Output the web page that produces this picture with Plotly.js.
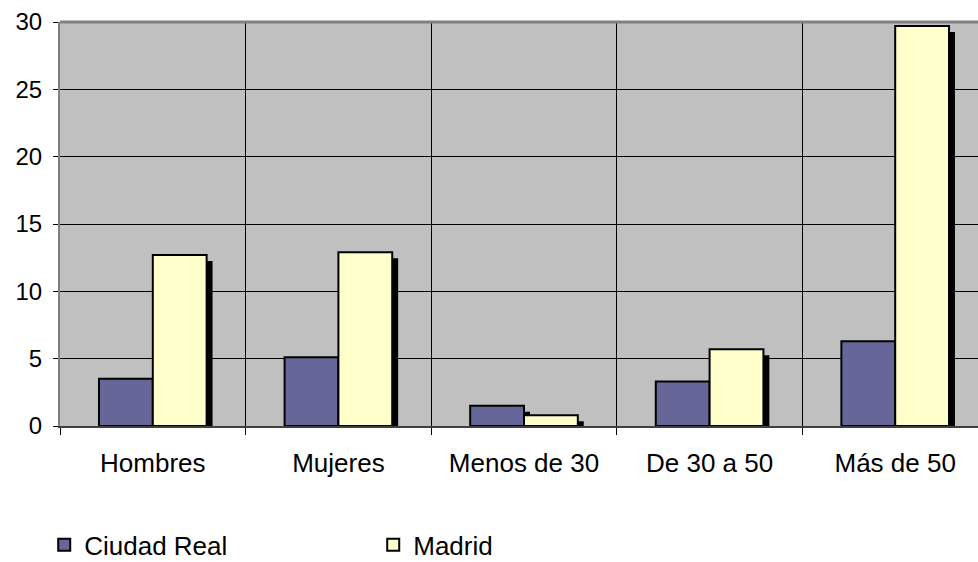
<!DOCTYPE html>
<html>
<head>
<meta charset="utf-8">
<script src="https://cdn.plot.ly/plotly-3.0.1.min.js"></script>
<style>
html, body { margin: 0; padding: 0; overflow: hidden; background: #fff; }
#chart { width: 990px; height: 562px; }
</style>
</head>
<body>
<div id="chart"></div>
<script>
const categories = ["Hombres", "Mujeres", "Menos de 30", "De 30 a 50", "Más de 50"];
const ciudadReal = [3.5, 5.1, 1.5, 3.3, 6.3];
const madrid = [12.7, 12.9, 0.8, 5.7, 29.7];
const seriesNames = ["Ciudad Real", "Madrid"];
const yTicks = [0, 5, 10, 15, 20, 25, 30];

const BAR_W = 0.29;
const SH_DX = 0.032;   // shadow shift (category units)
const SH_DY = 0.45;    // shadow shift (value units)

function shadow(vals, off) {
  return {
    type: 'bar', x: categories, y: vals,
    base: vals.map(() => -SH_DY),
    width: BAR_W, offset: off + SH_DX,
    marker: { color: '#000000', line: { width: 0 } },
    showlegend: false, hoverinfo: 'skip'
  };
}

const data = [
  shadow(ciudadReal, -BAR_W),
  shadow(madrid, 0),
  {
    type: 'bar', name: seriesNames[0], x: categories, y: ciudadReal,
    width: BAR_W, offset: -BAR_W,
    marker: { color: '#666699', line: { color: '#000000', width: 2 } }
  },
  {
    type: 'bar', name: seriesNames[1], x: categories, y: madrid,
    width: BAR_W, offset: 0,
    marker: { color: '#FFFFCC', line: { color: '#000000', width: 2 } }
  }
];

const layout = {
  width: 990, height: 562,
  margin: { l: 60, r: 2, t: 22, b: 136, autoexpand: false },
  paper_bgcolor: '#ffffff',
  plot_bgcolor: '#C0C0C0',
  barmode: 'overlay',
  font: { family: 'Liberation Sans, Arial, sans-serif', color: '#000000', size: 24 },
  xaxis: {
    type: 'category',
    range: [-0.5, 4.5],
    tickson: 'boundaries',
    ticks: 'outside', ticklen: 7, tickcolor: '#000000', tickwidth: 1,
    showgrid: true, gridcolor: '#000000', gridwidth: 1,
    showline: true, linecolor: '#404040', linewidth: 2,
    tickfont: { size: 26 },
    tickangle: 0,
    ticklabelstandoff: 13,
    automargin: false,
    fixedrange: true
  },
  yaxis: {
    range: [0, 30],
    tickvals: yTicks,
    ticks: 'outside', ticklen: 5, tickcolor: '#000000', tickwidth: 1,
    showgrid: true, gridcolor: '#000000', gridwidth: 1,
    zeroline: false,
    showline: true, linecolor: '#808080', linewidth: 2,
    tickfont: { size: 24 },
    ticklabelstandoff: 6,
    automargin: false,
    fixedrange: true
  },
  shapes: [{
    type: 'line', xref: 'paper', yref: 'paper', x0: 0, x1: 1, y0: 1, y1: 1,
    line: { color: '#808080', width: 3 }
  }],
  showlegend: true,
  legend: {
    orientation: 'h',
    xref: 'paper', yref: 'paper',
    x: -0.017, y: -0.294, xanchor: 'left', yanchor: 'middle',
    font: { size: 26, color: '#000000' },
    entrywidth: 284, entrywidthmode: 'pixels',
    bgcolor: 'rgba(0,0,0,0)', traceorder: 'normal'
  }
};

Plotly.newPlot('chart', data, layout, { displayModeBar: false, staticPlot: true });
</script>
</body>
</html>
